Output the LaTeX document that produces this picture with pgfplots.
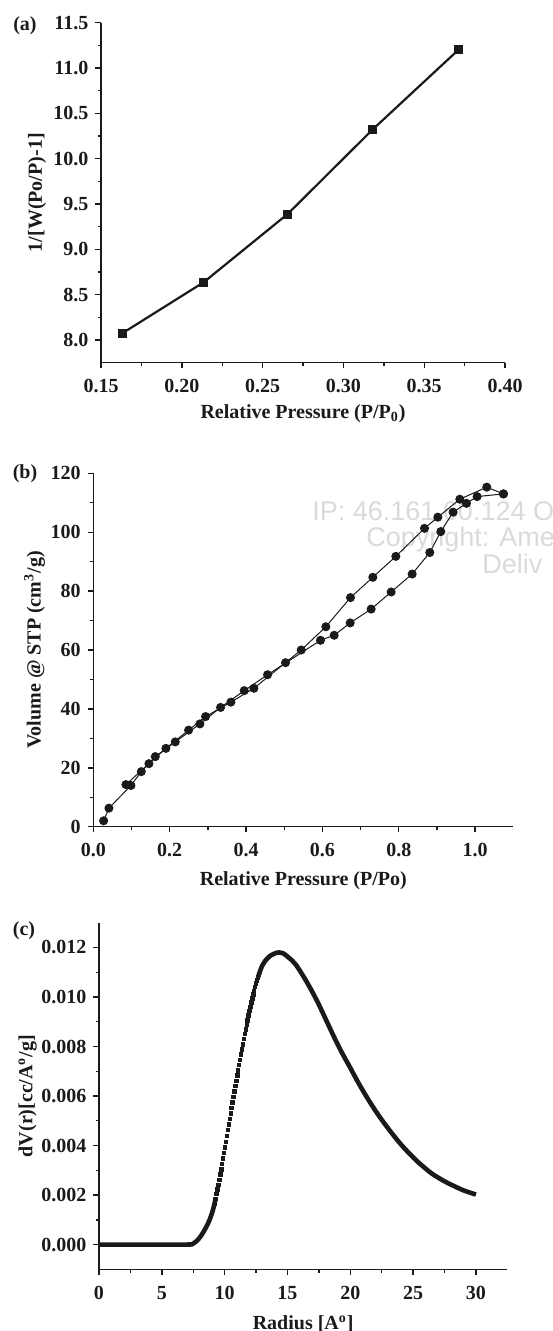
\documentclass[border=0pt]{standalone}
\usepackage{fontspec}
\setmainfont{Liberation Serif}
\newfontfamily\wmfont{Liberation Sans}
\usepackage{pgfplots}
\pgfplotsset{compat=1.18}
\definecolor{ink}{HTML}{1A1A1A}
\definecolor{wm}{HTML}{DADADA}
\pgfplotsset{
  myaxis/.style={
    scale only axis,
    axis lines=left,
    axis line style={-, line width=0.7pt, draw=ink},
    tick style={line width=0.7pt, draw=ink},
    tick align=outside,
    major tick length=2.8pt,
    minor tick length=1.6pt,
    minor tick num=1,
    tick label style={font=\fontsize{10}{12}\selectfont\bfseries, text=ink},
    xticklabel style={yshift=-2pt},
    label style={font=\fontsize{10}{12}\selectfont\bfseries, text=ink},
    /pgf/number format/assume math mode=true,
    clip=false,
  }
}
\begin{document}
\begin{tikzpicture}
% watermark (behind everything)
\begin{scope}
\clip (0,0) rectangle (276pt,-665.5pt);
\node[anchor=base west, text=wm, font=\wmfont\fontsize{13.5}{16}\selectfont, inner sep=0] at (156pt,-260pt) {IP: 46.161.60.124 O};
\node[anchor=base west, text=wm, font=\wmfont\fontsize{13.5}{16}\selectfont, inner sep=0] at (183pt,-273.3pt) {Copyright: Ame};
\node[anchor=base west, text=wm, font=\wmfont\fontsize{13.5}{16}\selectfont, inner sep=0] at (241pt,-286.6pt) {Deliv};
\end{scope}

% ---------------- panel (a)
\begin{axis}[myaxis,
  at={(50.5pt,-181.35pt)}, anchor=south west,
  width=202pt, height=170pt,
  xmin=0.15, xmax=0.40, ymin=7.75, ymax=11.5,
  xtick={0.15,0.20,0.25,0.30,0.35,0.40},
  ytick={8,8.5,9,9.5,10,10.5,11,11.5},
  xticklabel style={/pgf/number format/.cd, fixed, fixed zerofill, precision=2},
  yticklabel style={/pgf/number format/.cd, fixed, fixed zerofill, precision=1},
  xlabel={Relative Pressure (P/P\textsubscript{0})},
  ylabel={1/[W(Po/P)-1]},
  xlabel style={at={(axis description cs:0.5,-0.150)}, anchor=center},
  ylabel style={at={(axis description cs:-0.158,0.5)}, anchor=center},
]
\addplot[draw=ink, line width=1.1pt, mark=square*, mark size=1.7pt, mark options={solid, fill=ink, draw=ink}]
  coordinates {(0.1634,8.077) (0.2136,8.638) (0.2655,9.390) (0.3181,10.322) (0.3713,11.203)};
\end{axis}

% ---------------- panel (b)
\begin{axis}[myaxis,
  at={(46.65pt,-413.35pt)}, anchor=south west,
  width=210pt, height=176.7pt,
  xmin=0, xmax=1.1, ymin=0, ymax=120,
  xtick={0,0.2,0.4,0.6,0.8,1.0},
  ytick={0,20,40,60,80,100,120},
  xticklabel style={/pgf/number format/.cd, fixed, fixed zerofill, precision=1},
  xlabel={Relative Pressure (P/Po)},
  ylabel={Volume @ STP (cm\textsuperscript{3}/g)},
  xlabel style={at={(axis description cs:0.5,-0.152)}, anchor=center},
  ylabel style={at={(axis description cs:-0.140,0.5)}, anchor=center},
]
% adsorption branch
\addplot[draw=ink, line width=0.5pt, mark=*, mark size=2pt, mark options={fill=ink, draw=ink}]
  coordinates {(0.027,2.0) (0.041,6.3) (0.0986,14.0) (0.1257,18.7) (0.1623,23.8)
  (0.2147,28.8) (0.2792,34.9) (0.3333,40.5) (0.3953,46.2) (0.4564,51.6)
  (0.5951,63.3) (0.6309,65.0) (0.6728,69.2) (0.7277,73.9) (0.7801,79.7)
  (0.8351,85.8) (0.8813,93.1) (0.9101,100.2) (0.9424,106.8) (0.9773,109.8)
  (1.0052,112.1) (1.0742,113.0)};
% desorption branch
\addplot[draw=ink, line width=0.5pt, mark=*, mark size=2pt, mark options={fill=ink, draw=ink}]
  coordinates {(1.0742,113.0) (1.0305,115.3) (0.9599,111.2) (0.9023,105.1) (0.8674,101.3)
  (0.7923,91.8) (0.7321,84.7) (0.6736,77.8) (0.6091,67.9) (0.5445,60.0)
  (0.5035,55.7) (0.4206,47.0) (0.3604,42.3) (0.2941,37.4) (0.2496,32.8)
  (0.1902,26.6) (0.1457,21.4) (0.0855,14.3)};
\end{axis}

% ---------------- panel (c)
\begin{axis}[myaxis,
  at={(49.5pt,-634.65pt)}, anchor=south west,
  width=204.2pt, height=173.3pt,
  xmin=0, xmax=32.5, ymin=-0.001, ymax=0.013,
  xtick={0,5,10,15,20,25,30},
  ytick={0,0.002,0.004,0.006,0.008,0.010,0.012},
  scaled y ticks=false,
  yticklabel style={/pgf/number format/.cd, fixed, fixed zerofill, precision=3},
  xlabel={Radius [A\textsuperscript{o}]},
  ylabel={dV(r)[cc/A\textsuperscript{o}/g]},
  xlabel style={at={(axis description cs:0.5,-0.158)}, anchor=center},
  ylabel style={at={(axis description cs:-0.175,0.5)}, anchor=center},
]
\addplot[draw=ink, line width=2.3pt, smooth, mark=none]
  coordinates {(0,0) (3.5,0) (7.0,0) (7.5,0.00004) (7.95,0.00024) (8.3,0.00050)
  (8.7,0.00088) (9.0,0.00128) (9.2,0.00167) (9.275,0.00185)};
\addplot[only marks, mark=square*, mark size=0.85pt, mark options={fill=ink, draw=ink}]
  coordinates {(9.200,0.00167) (9.275,0.00185) (9.350,0.00204) (9.425,0.00222)
  (9.500,0.00240) (9.575,0.00261) (9.650,0.00283) (9.725,0.00304)
  (9.800,0.00325) (9.875,0.00348) (9.950,0.00370) (10.025,0.00393)
  (10.100,0.00415) (10.175,0.00438) (10.250,0.00462) (10.325,0.00485)
  (10.400,0.00508) (10.475,0.00530) (10.550,0.00553) (10.625,0.00575)
  (10.700,0.00597) (10.775,0.00619) (10.850,0.00640) (10.925,0.00662)
  (11.000,0.00683) (11.075,0.00704) (11.150,0.00726) (11.225,0.00747)
  (11.300,0.00768) (11.375,0.00789) (11.450,0.00809) (11.525,0.00830)
  (11.600,0.00850) (11.675,0.00869) (11.750,0.00888) (11.825,0.00906)
  (11.900,0.00925) (11.975,0.00943) (12.050,0.00960) (12.125,0.00978)
  (12.200,0.00995) (12.275,0.01010) (12.350,0.01025) (12.425,0.01040)
  (12.500,0.01055) (12.575,0.01067) (12.650,0.01079) (12.725,0.01090)
  (12.800,0.01102)};
\addplot[draw=ink, line width=2.3pt, smooth, mark=none]
  coordinates {(12.65,0.01079) (12.8,0.01102) (12.95,0.01122) (13.2,0.01144) (13.58,0.01165)
  (14.0,0.01176) (14.33,0.01180) (14.7,0.01175) (15.0,0.01163) (15.35,0.01148)
  (15.7,0.01128) (16.05,0.01101) (16.45,0.01068) (16.95,0.01023) (17.45,0.00974)
  (18.1,0.00904) (18.7,0.00839) (19.3,0.00778) (19.95,0.00718) (20.7,0.00648)
  (21.45,0.00584) (22.1,0.00533) (22.7,0.00490) (23.3,0.00450) (23.95,0.00409)
  (24.6,0.00373) (25.2,0.00342) (25.8,0.00315) (26.45,0.00288) (27.1,0.00267)
  (27.7,0.00250) (28.35,0.00234) (28.95,0.00220) (29.5,0.00210) (30.0,0.00202)};
\end{axis}

% panel letters
\node[font=\fontsize{10}{12}\selectfont\bfseries, text=ink] at (12.5pt,-13pt) {(a)};
\node[font=\fontsize{10}{12}\selectfont\bfseries, text=ink] at (12.5pt,-237pt) {(b)};
\node[font=\fontsize{10}{12}\selectfont\bfseries, text=ink] at (12pt,-465.5pt) {(c)};

\pgfresetboundingbox
\useasboundingbox (0,0) rectangle (276pt,-665.5pt);
\end{tikzpicture}
\end{document}
